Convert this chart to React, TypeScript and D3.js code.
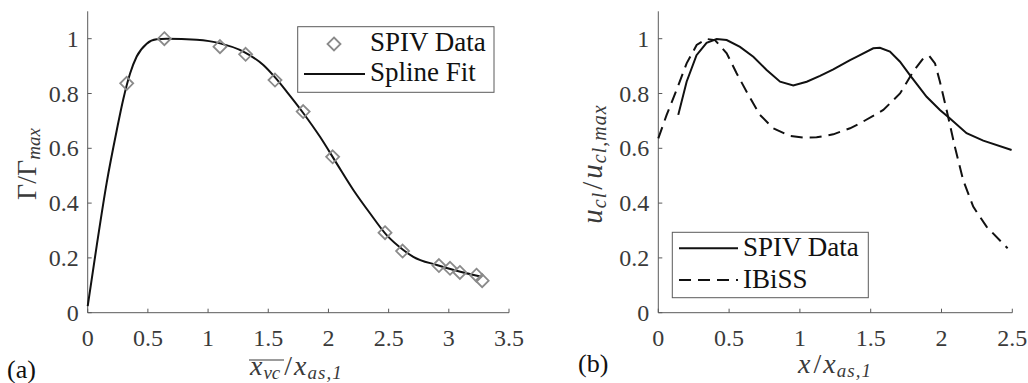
import React from "react";
import * as d3 from "d3";

// Panel (a): circulation
const fitX = [0, 0.075, 0.158, 0.241, 0.296, 0.352, 0.407, 0.49, 0.573, 0.656, 0.905, 1.1, 1.293, 1.459, 1.564, 1.653, 1.792, 1.93, 2.068, 2.207, 2.345, 2.484, 2.622, 2.705, 2.9, 3.065, 3.272];
const fitY = [0.024, 0.245, 0.475, 0.665, 0.78, 0.873, 0.935, 0.982, 0.998, 1.0, 0.996, 0.983, 0.953, 0.904, 0.855, 0.807, 0.728, 0.642, 0.545, 0.448, 0.363, 0.283, 0.229, 0.204, 0.174, 0.153, 0.131];
const spivX = [0.324, 0.637, 1.099, 1.312, 1.556, 1.79, 2.035, 2.47, 2.616, 2.918, 3.01, 3.092, 3.23, 3.277];
const spivY = [0.837, 1.0, 0.971, 0.943, 0.849, 0.734, 0.569, 0.292, 0.225, 0.172, 0.162, 0.147, 0.137, 0.117];
const ticksXA = [0, 0.5, 1, 1.5, 2, 2.5, 3, 3.5];

// Panel (b): centreline velocity
const solidX = [0.141, 0.2, 0.27, 0.341, 0.412, 0.483, 0.577, 0.671, 0.765, 0.86, 0.953, 1.048, 1.142, 1.236, 1.354, 1.4, 1.518, 1.565, 1.636, 1.707, 1.777, 1.895, 1.989, 2.06, 2.177, 2.295, 2.495];
const solidY = [0.722, 0.843, 0.94, 0.985, 0.999, 0.995, 0.97, 0.934, 0.886, 0.843, 0.829, 0.843, 0.864, 0.888, 0.922, 0.934, 0.965, 0.967, 0.953, 0.916, 0.867, 0.788, 0.74, 0.709, 0.655, 0.628, 0.594];
const ibissX = [0, 0.059, 0.129, 0.2, 0.271, 0.341, 0.4, 0.483, 0.553, 0.636, 0.718, 0.812, 0.93, 1.024, 1.118, 1.236, 1.354, 1.424, 1.589, 1.707, 1.8, 1.871, 1.914, 1.954, 1.989, 2.036, 2.094, 2.153, 2.224, 2.318, 2.467];
const ibissY = [0.636, 0.722, 0.813, 0.91, 0.977, 0.999, 0.995, 0.947, 0.874, 0.795, 0.722, 0.673, 0.645, 0.639, 0.64, 0.651, 0.673, 0.691, 0.74, 0.8, 0.88, 0.928, 0.937, 0.91, 0.843, 0.74, 0.606, 0.484, 0.387, 0.314, 0.235];
const ticksXB = [0, 0.5, 1, 1.5, 2, 2.5];
const ticksY = [0, 0.2, 0.4, 0.6, 0.8, 1];

const FONT = "Liberation Serif";
const TXT = "#3a3a3a";
const AX = "#5a5a5a";

const y0 = 312.7, y1 = 11.3;

function fmt(v: number) {
  return d3.format("~g")(v);
}

function Axes({ x, y, xt }: { x: d3.ScaleLinear<number, number>; y: d3.ScaleLinear<number, number>; xt: number[] }) {
  const [xa, xb] = x.range();
  return (
    <g>
      <line x1={xa} x2={xa} y1={y(0)} y2={y(1.1)} stroke={AX} strokeWidth={1} />
      <line x1={xa} x2={xb} y1={y(0)} y2={y(0)} stroke={AX} strokeWidth={1} />
      {xt.map((t) => (
        <g key={"x" + t}>
          <line x1={x(t)} x2={x(t)} y1={y(0)} y2={y(0) - 4} stroke={AX} strokeWidth={1} />
          <text x={x(t)} y={y(0) + 33} textAnchor="middle" fontSize={24} fill={TXT}>{fmt(t)}</text>
        </g>
      ))}
      {ticksY.map((t) => (
        <g key={"y" + t}>
          <line x1={xa} x2={xa + 4} y1={y(t)} y2={y(t)} stroke={AX} strokeWidth={1} />
          <text x={xa - 9} y={y(t) + 8} textAnchor="end" fontSize={24} fill={TXT}>{fmt(t)}</text>
        </g>
      ))}
    </g>
  );
}

export default function App() {
  const xA = d3.scaleLinear().domain([0, 3.5]).range([87.7, 509]);
  const xB = d3.scaleLinear().domain([0, 2.5]).range([658.3, 1012.3]);
  const y = d3.scaleLinear().domain([0, 1.1]).range([y0, y1]);

  const fitPts: [number, number][] = fitX.map((v, i) => [v, fitY[i]]);
  const solidPts: [number, number][] = solidX.map((v, i) => [v, solidY[i]]);
  const ibissPts: [number, number][] = ibissX.map((v, i) => [v, ibissY[i]]);

  const lineA = d3.line<[number, number]>().x((d) => xA(d[0])).y((d) => y(d[1])).curve(d3.curveMonotoneX);
  const lineB = d3.line<[number, number]>().x((d) => xB(d[0])).y((d) => y(d[1])).curve(d3.curveLinear);

  const diamond = (cx: number, cy: number, r: number) =>
    `M${cx},${cy - r}L${cx + r},${cy}L${cx},${cy + r}L${cx - r},${cy}Z`;

  return (
    <svg width={1028} height={383} style={{ position: "absolute", left: 0, top: 0, background: "#fff", fontFamily: FONT }}>
      {/* Panel (a) */}
      <Axes x={xA} y={y} xt={ticksXA} />
      <path d={lineA(fitPts) || ""} fill="none" stroke="#111" strokeWidth={2} />
      {spivX.map((v, i) => (
        <path key={i} d={diamond(xA(v), y(spivY[i]), 6.5)} fill="none" stroke="#8a8a8a" strokeWidth={1.8} />
      ))}
      {/* legend a */}
      <rect x={297.7} y={26.7} width={196.3} height={65.6} fill="#fff" stroke={AX} strokeWidth={1} />
      <path d={diamond(334, 44, 6.5)} fill="none" stroke="#8a8a8a" strokeWidth={1.8} />
      <text x={370} y={51} fontSize={27} fill="#111">SPIV Data</text>
      <line x1={304} x2={365} y1={74} y2={74} stroke="#111" strokeWidth={2} />
      <text x={370} y={81} fontSize={27} fill="#111">Spline Fit</text>
      {/* y label a */}
      <text transform="translate(36,164) rotate(-90)" textAnchor="middle" fontSize={28} fill={TXT}>
        <tspan>Γ/Γ</tspan>
        <tspan fontSize={19} fontStyle="italic" dy={4}>max</tspan>
      </text>
      {/* x label a */}
      <line x1={249} x2={284} y1={360} y2={360} stroke={TXT} strokeWidth={1.2} />
      <text x={250} y={375} fontSize={28} fill={TXT} fontStyle="italic">
        <tspan>x</tspan>
        <tspan fontSize={19} dy={4} dx={1}>vc</tspan>
        <tspan dy={-4} fontStyle="normal" dx={4}>/</tspan>
        <tspan dx={2}>x</tspan>
        <tspan fontSize={19} dy={4} dx={1} letterSpacing={1}>as,1</tspan>
      </text>
      <text x={7} y={378} fontSize={26} fill="#111">(a)</text>

      {/* Panel (b) */}
      <Axes x={xB} y={y} xt={ticksXB} />
      <path d={lineB(ibissPts) || ""} fill="none" stroke="#111" strokeWidth={2} strokeDasharray="12,7" />
      <path d={lineB(solidPts) || ""} fill="none" stroke="#111" strokeWidth={2} />
      {/* legend b */}
      <rect x={672.3} y={232.3} width={196} height={65.4} fill="#fff" stroke={AX} strokeWidth={1} />
      <line x1={679} x2={738} y1={248.3} y2={248.3} stroke="#111" strokeWidth={2} />
      <text x={743} y={256} fontSize={27} fill="#111">SPIV Data</text>
      <line x1={679} x2={738} y1={280} y2={280} stroke="#111" strokeWidth={2} strokeDasharray="12,7" />
      <text x={743} y={288} fontSize={27} fill="#111">IBiSS</text>
      {/* y label b */}
      <text transform="translate(602,164) rotate(-90)" textAnchor="middle" fontSize={29} fill={TXT} fontStyle="italic" letterSpacing={1}>
        <tspan>u</tspan>
        <tspan fontSize={20} dy={4}>cl</tspan>
        <tspan dy={-4} dx={2} fontStyle="normal">/</tspan>
        <tspan dx={2}>u</tspan>
        <tspan fontSize={20} dy={4}>cl,max</tspan>
      </text>
      {/* x label b */}
      <text x={835} y={373} textAnchor="middle" fontSize={28} fill={TXT} fontStyle="italic">
        <tspan>x</tspan>
        <tspan fontStyle="normal" dx={3}>/</tspan>
        <tspan dx={2}>x</tspan>
        <tspan fontSize={19} dy={4} dx={1} letterSpacing={1}>as,1</tspan>
      </text>
      <text x={578} y={372} fontSize={26} fill="#111">(b)</text>
    </svg>
  );
}
